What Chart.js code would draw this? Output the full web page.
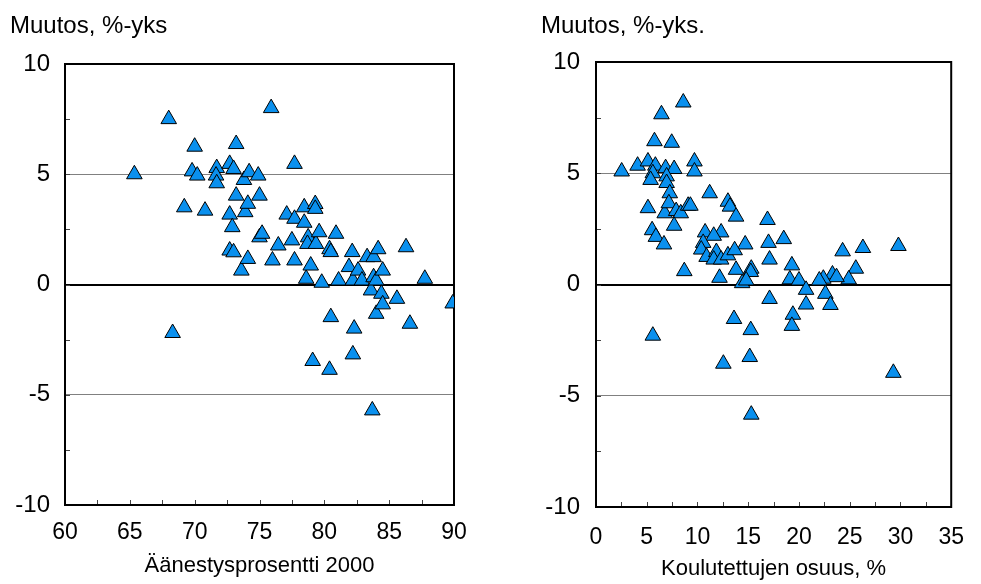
<!DOCTYPE html>
<html>
<head>
<meta charset="utf-8">
<script src="https://cdn.jsdelivr.net/npm/chart.js@4.4.0/dist/chart.umd.min.js"></script>
<style>
  html, body { margin: 0; padding: 0; background: #fff; }
  .box { position: absolute; top: 0; height: 584px; }
  #boxA { left: 0; width: 490px; }
  #boxB { left: 490px; width: 491px; }
</style>
</head>
<body>
<div class="box" id="boxA"><canvas id="chartA"></canvas></div>
<div class="box" id="boxB"><canvas id="chartB"></canvas></div>
<script>
// left panel: turnout 2000 (x) vs change in %-points (y)
const turnoutX = [65.35, 68.0, 68.3, 69.2, 69.8, 70.0, 70.2, 70.8, 71.7, 71.65, 71.7, 72.7, 73.0, 73.2,
  72.7, 72.9, 72.7, 73.0, 73.2, 73.6, 73.8, 73.9, 74.1, 74.1, 74.2, 74.9, 75.0, 75.0, 75.2, 75.9,
  76.0, 76.45, 77.1, 77.5, 77.7, 77.7, 77.7, 78.45, 78.45, 78.6, 78.75, 78.7, 78.95, 79.1, 79.3,
  79.3, 79.35, 79.6, 79.8, 80.4, 80.4, 80.5, 80.5, 80.9, 81.1, 81.9, 82.15, 82.2, 82.2, 82.3,
  82.6, 82.9, 83.3, 83.6, 83.7, 83.8, 83.8, 84.0, 84.0, 84.15, 84.4, 84.5, 84.5, 85.6, 86.3,
  86.6, 87.75, 89.9];
const turnoutChange = [5.0, 7.5, -2.2, 3.5, 5.13, 6.25, 4.94, 3.35, 5.28, 4.94, 4.59, 5.47, 5.24, 6.37,
  3.17, 2.6, 1.54, 1.46, 4.03, 0.63, 4.74, 3.28, 3.66, 1.16, 5.09, 4.94, 4.03, 2.14, 2.3, 8.0,
  1.09, 1.77, 3.17, 2.0, 5.47, 2.98, 1.09, 3.5, 2.8, 0.26, 2.14, 1.84, 0.86, -3.47, 3.65,
  3.43, 1.84, 2.37, 0.08, 1.6, -3.87, 1.47, -1.48, 2.3, 0.18, 0.79, 1.47, 0.18, -3.17, -2.0,
  0.63, 0.18, 1.24, -0.27, -5.71, 1.24, 0.33, 0.18, -1.33, 1.6, -0.42, 0.63, -0.9, -0.65, 1.69,
  -1.78, 0.26, -0.86];

// right panel: share of educated, % (x) vs change in %-points (y)
const eduX = [2.53, 4.1, 5.12, 5.85, 6.86, 7.7, 9.7, 9.7, 5.6, 5.38, 6.96, 6.96, 7.27, 11.2, 13.0,
  13.2, 13.8, 5.12, 6.77, 7.18, 7.9, 8.35, 9.08, 9.3, 7.7, 5.53, 5.9, 6.7, 10.75, 12.33, 11.6,
  10.56, 14.7, 16.9, 17.0, 17.1, 10.37, 10.9, 11.86, 11.6, 12.33, 13.0, 13.66, 13.8, 15.3, 15.25,
  14.4, 14.8, 12.17, 8.7, 17.1, 18.5, 19.3, 19.1, 20.0, 20.7, 20.7, 19.4, 19.3, 24.3, 26.3, 29.8,
  25.6, 24.9, 23.3, 23.7, 22.4, 22.0, 22.6, 23.1, 29.3, 13.6, 15.25, 5.6, 15.15, 12.55, 15.3,
  8.6, 6.45, 5.76, 7.46];
const eduChange = [5.08, 5.34, 5.53, 5.34, 5.23, 5.19, 5.53, 5.08, 5.0, 4.7, 4.86, 4.56, 4.1, 4.1, 3.72,
  3.5, 3.05, 3.43, 3.2, 3.65, 3.3, 3.2, 3.54, 3.54, 2.64, 2.44, 2.14, 1.8, 2.34, 2.34, 2.19,
  1.87, 1.8, 2.9, 1.87, 1.12, 1.57, 1.24, 1.46, 1.12, 1.12, 1.31, 1.54, 0.66, 0.71, 0.56,
  0.06, 0.18, 0.3, 0.6, -0.65, 2.04, 0.86, 0.23, 0.18, -0.24, -0.9, -1.36, -1.86, 1.49, 1.64, 1.73,
  0.71, 0.23, 0.45, 0.33, 0.26, 0.18, -0.42, -0.92, -3.97, -1.55, -2.05, -2.3, -3.26, -3.56, -5.85,
  8.18, 7.65, 6.44, 6.37];

const yTicks = [-10, -5, 0, 5, 10];

Chart.defaults.font.family = "'Liberation Sans', Arial, sans-serif";
Chart.defaults.color = '#000';

// frame, inward tick marks and the y caption
const framePlugin = {
  id: 'frame',
  beforeDatasetsDraw(chart) {
    const { ctx, chartArea: a, scales } = chart;
    ctx.save();
    ctx.strokeStyle = '#444';
    ctx.lineWidth = 1;
    ctx.beginPath();
    scales.x.ticks.forEach(t => {
      const px = Math.round(scales.x.getPixelForValue(t.value)) + 0.5;
      ctx.moveTo(px, a.bottom);
      ctx.lineTo(px, a.bottom - 5);
    });
    scales.y.ticks.forEach(t => {
      const py = Math.round(scales.y.getPixelForValue(t.value)) + 0.5;
      ctx.moveTo(a.left, py);
      ctx.lineTo(a.left + 5, py);
    });
    ctx.stroke();
    ctx.strokeStyle = '#000';
    ctx.lineWidth = 2;
    ctx.strokeRect(a.left, a.top, a.right - a.left, a.bottom - a.top);
    ctx.restore();
  },
  afterDraw(chart, args, opts) {
    const { ctx, chartArea: a } = chart;
    ctx.save();
    ctx.font = "24px 'Liberation Sans', Arial, sans-serif";
    ctx.fillStyle = '#000';
    ctx.textBaseline = 'alphabetic';
    ctx.fillText(opts.text, a.left - opts.dx, opts.baseline);
    ctx.restore();
  }
};

function makeChart(id, xs, ys, o) {
  const pts = xs.map((x, i) => ({ x: x, y: ys[i] }));
  return new Chart(document.getElementById(id), {
    type: 'scatter',
    data: {
      datasets: [{
        data: pts,
        pointStyle: 'triangle',
        pointRadius: 9,
        pointHoverRadius: 9,
        backgroundColor: '#0a90ee',
        borderColor: '#000',
        borderWidth: 1
      }]
    },
    plugins: [framePlugin],
    options: {
      responsive: true,
      maintainAspectRatio: false,
      animation: false,
      layout: { padding: { top: o.top, right: o.right, left: 0, bottom: 0 } },
      plugins: {
        legend: { display: false },
        tooltip: { enabled: false },
        frame: { text: 'Muutos, %-yks' + o.dot, dx: 55, baseline: 33 }
      },
      scales: {
        x: {
          type: 'linear',
          min: o.xmin,
          max: o.xmax,
          afterFit: s => { s.height = o.xh; },
          afterBuildTicks: s => {
            const t = [];
            for (let v = o.xmin; v <= o.xmax; v += 2.5) t.push({ value: v });
            s.ticks = t;
          },
          ticks: {
            autoSkip: false,
            maxRotation: 0,
            padding: o.xpad,
            font: { size: 23 },
            callback: v => (v % 5 === 0 ? v : '')
          },
          grid: { drawOnChartArea: false, drawTicks: false },
          border: { display: false },
          title: {
            display: true,
            text: o.xtitle,
            font: { size: 22 },
            padding: { top: 0, bottom: o.tpad }
          }
        },
        y: {
          type: 'linear',
          min: -10,
          max: 10,
          afterFit: s => { s.width = o.yw; },
          afterBuildTicks: s => {
            const t = [];
            for (let v = -10; v <= 10; v += 2.5) t.push({ value: v });
            s.ticks = t;
          },
          ticks: {
            autoSkip: false,
            padding: o.ypad,
            font: { size: 24 },
            callback: v => (yTicks.includes(v) ? v : '')
          },
          grid: {
            drawTicks: false,
            color: c => (c.tick.value === 0 ? '#000' : (Math.abs(c.tick.value) === 5 ? '#808080' : 'rgba(0,0,0,0)')),
            lineWidth: c => (c.tick.value === 0 ? 2 : 1)
          },
          border: { display: false }
        }
      }
    }
  });
}

makeChart('chartA', turnoutX, turnoutChange, {
  top: 64, right: 36, yw: 65, xh: 79, xmin: 60, xmax: 90, xpad: 14, ypad: 15, tpad: 5,
  xtitle: 'Äänestysprosentti 2000', dot: ''
});
makeChart('chartB', eduX, eduChange, {
  top: 62, right: 16, yw: 106, xh: 77, xmin: 0, xmax: 35, xpad: 17, ypad: 16, tpad: 2,
  xtitle: 'Koulutettujen osuus, %', dot: '.'
});
</script>
</body>
</html>
